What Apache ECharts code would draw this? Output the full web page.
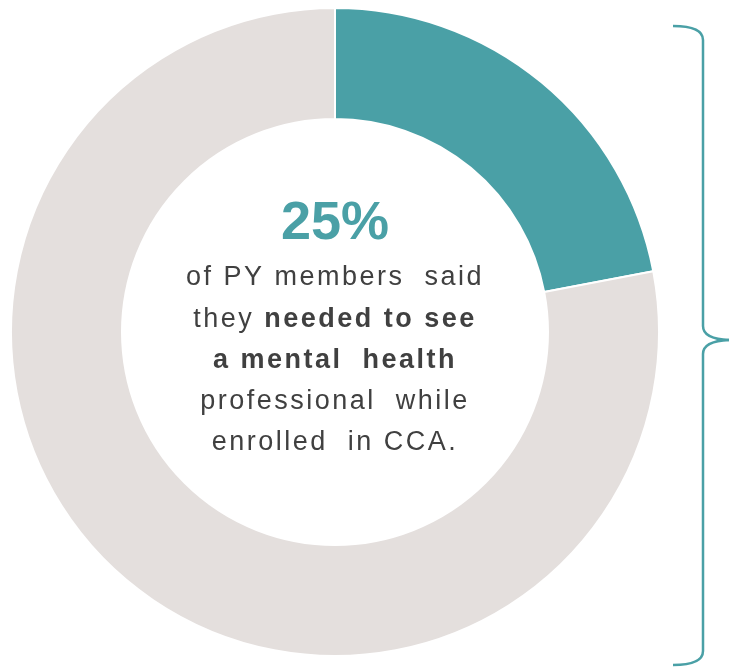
<!DOCTYPE html>
<html lang="en">
<head>
    <meta charset="UTF-8">
    <title>Mental health need</title>
    <script src="https://cdn.jsdelivr.net/npm/echarts@6/dist/echarts.min.js"></script>
    <style>
        html, body { margin: 0; padding: 0; background: #fff; }
    </style>
</head>
<body>
<div id="main" style="width: 732px;height:672px;"></div>
<script type="text/javascript">
    // data (arc share as drawn)
    var categories = ['Needed to see a mental health professional', 'Did not'];
    var values = [22, 78];
    var colors = ['#4aa0a6', '#e4dfdd'];
    var headline = '25%';
    var bodyLines = [
        'of PY members  said',
        'they {b|needed to see}',
        '{b|a mental  health}',
        'professional  while',
        'enrolled  in CCA.'
    ];

    // the source text is set with loose letter spacing
    function spacingFor(font) {
        var m = /(\d+)px/.exec(font || '');
        return m && +m[1] < 40 ? '2.5px' : '0px';
    }
    var mctx = document.createElement('canvas').getContext('2d');
    echarts.setPlatformAPI({
        measureText: function (text, font) {
            mctx.font = font;
            mctx.letterSpacing = spacingFor(font);
            return mctx.measureText(text);
        }
    });
    var origFill = CanvasRenderingContext2D.prototype.fillText;
    CanvasRenderingContext2D.prototype.fillText = function () {
        this.letterSpacing = spacingFor(this.font);
        return origFill.apply(this, arguments);
    };

    var cx = 335, cy = 332;
    var textColor = '#404040';
    var font = '"Liberation Sans", Arial, sans-serif';

    var graphics = [{
        type: 'text',
        x: cx,
        y: 224,
        style: {
            text: headline,
            fill: colors[0],
            font: 'bold 54px ' + font,
            align: 'center',
            verticalAlign: 'middle'
        }
    }];
    bodyLines.forEach(function (line, i) {
        graphics.push({
            type: 'text',
            x: cx,
            y: 278 + i * 41.2,
            style: {
                text: line,
                fill: textColor,
                font: '27px ' + font,
                align: 'center',
                verticalAlign: 'middle',
                rich: {
                    b: { fontWeight: 'bold', fontSize: 27, fontFamily: font, fill: textColor }
                }
            }
        });
    });

    // curly bracket on the right, built from lines and quadratic curves
    var bx = 703, tip = 729;
    var braceStyle = { fill: null, stroke: colors[0], lineWidth: 2.5 };
    [
        { type: 'bezierCurve', shape: { x1: 673, y1: 26, cpx1: bx, cpy1: 26, x2: bx, y2: 40 } },
        { type: 'line', shape: { x1: bx, y1: 40, x2: bx, y2: 326 } },
        { type: 'bezierCurve', shape: { x1: bx, y1: 326, cpx1: bx, cpy1: 339, x2: tip, y2: 340 } },
        { type: 'bezierCurve', shape: { x1: tip, y1: 340, cpx1: bx, cpy1: 341, x2: bx, y2: 354 } },
        { type: 'line', shape: { x1: bx, y1: 354, x2: bx, y2: 651 } },
        { type: 'bezierCurve', shape: { x1: bx, y1: 651, cpx1: bx, cpy1: 665, x2: 673, y2: 665 } }
    ].forEach(function (seg) {
        seg.style = braceStyle;
        graphics.push(seg);
    });

    var option = {
        animation: false,
        color: colors,
        series: [{
            type: 'pie',
            center: [cx, cy],
            radius: [213, 324],
            startAngle: 90,
            clockwise: true,
            silent: true,
            label: { show: false },
            labelLine: { show: false },
            itemStyle: { borderColor: '#fff', borderWidth: 2 },
            data: categories.map(function (c, i) {
                return { name: c, value: values[i] };
            })
        }],
        graphic: graphics
    };

    var myChart = echarts.init(document.getElementById('main'));
    myChart.setOption(option);
</script>
</body>
</html>
